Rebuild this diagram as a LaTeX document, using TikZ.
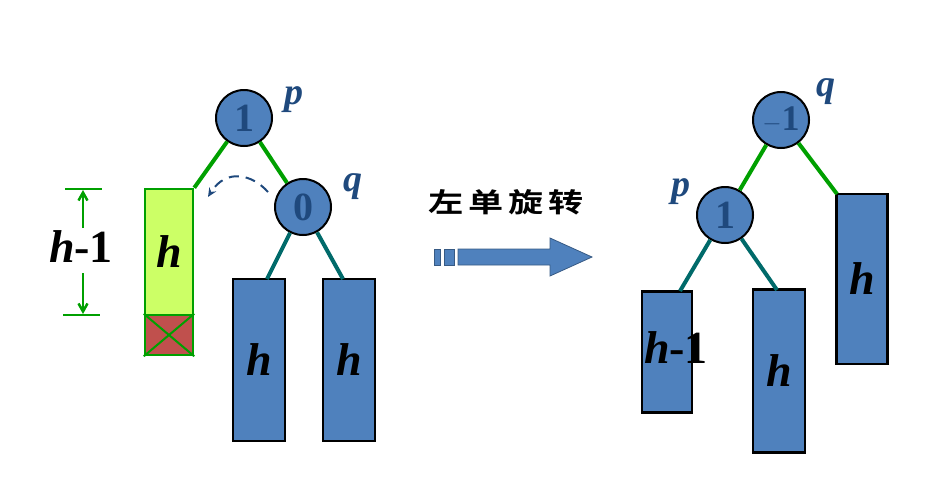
\documentclass[tikz,border=0pt]{standalone}
\usepackage{fontspec}
\setmainfont{Liberation Serif}[BoldFont={Liberation Serif Bold},ItalicFont={Liberation Serif Italic},BoldItalicFont={Liberation Serif Bold Italic}]
\newfontfamily\cjk{Noto Sans CJK SC Bold}
\usetikzlibrary{arrows.meta,calc}
\definecolor{boxblue}{HTML}{4F81BD}
\definecolor{dblue}{HTML}{1F497D}
\definecolor{gline}{HTML}{00A000}
\definecolor{tline}{HTML}{006A6A}
\definecolor{limefill}{HTML}{CCFF66}
\definecolor{brick}{HTML}{C0504D}
\begin{document}
\begin{tikzpicture}[x=1pt,y=-1pt,
  bal/.style={circle,draw=black,line width=2pt,fill=boxblue,minimum size=56pt,inner sep=0pt,
    font=\fontsize{40}{40}\selectfont\bfseries,text=dblue},
  sub/.style={draw=black,line width=2.5pt,fill=boxblue,inner sep=0pt,
    font=\fontsize{46}{46}\selectfont\bfseries\itshape},
  hlab/.style={inner sep=0pt,font=\fontsize{46}{46}\selectfont\bfseries},
  nlab/.style={inner sep=0pt,text=dblue,font=\fontsize{38}{38}\selectfont\bfseries\itshape},
  gedge/.style={draw=gline,line width=4pt},
  tedge/.style={draw=tline,line width=4pt},
  dim/.style={draw=gline,line width=2.5pt}
]
\useasboundingbox (0,0) rectangle (944,483);

% ---------- left tree ----------
\node[bal] (p1) at (244,118) {1};
\node[nlab] (p1l) at (294,100) {p};
\node[bal] (q1) at (303,207) {0};
\node[nlab] (q1l) at (353,187) {q};

\node[draw=gline,line width=2.5pt,fill=limefill,minimum width=48pt,minimum height=126pt,inner sep=0pt,
  font=\fontsize{46}{46}\selectfont\bfseries\itshape] (lime) at (169,252) {h};
\node[draw=gline,line width=2.5pt,fill=brick,minimum width=48pt,minimum height=40pt,inner sep=0pt] (red) at (169,335) {};
\draw[draw=gline,line width=2pt] (red.north west) -- (red.south east) (red.north east) -- (red.south west);

\node[sub,minimum width=52pt,minimum height=162pt] (b1) at (259,360) {h};
\node[sub,minimum width=52pt,minimum height=162pt] (b2) at (349,360) {h};

\path[gedge] (p1) -- (lime.north east);
\path[gedge] (p1) -- (q1);
\coordinate (b1t) at (267,279);
\coordinate (b2t) at (343,279);
\path[tedge] (q1) -- (b1t);
\path[tedge] (q1) -- (b2t);

% dashed rotation arc
\coordinate (arcS) at (268,192);
\coordinate (arcE) at (208,197);
\draw[draw=dblue,line width=2pt,dash pattern=on 10pt off 7pt,-{Stealth[length=9pt,width=8pt]}]
  (arcS) .. controls (252,174) and (226,168) .. (arcE);

% dimension h-1
\coordinate (d1a) at (65,189);
\coordinate (d1b) at (102,189);
\coordinate (d2a) at (63,315);
\coordinate (d2b) at (100,315);
\path[dim] (d1a) -- (d1b);
\path[dim] (d2a) -- (d2b);
\coordinate (u1) at (83,228);
\coordinate (u2) at (83,190);
\coordinate (w1) at (83,273);
\coordinate (w2) at (83,314);
\draw[dim,-{Straight Barb[length=8pt,width=9pt]}] (u1) -- (u2);
\draw[dim,-{Straight Barb[length=8pt,width=9pt]}] (w1) -- (w2);
\node[hlab] (hm1) at (81,247) {\itshape h\upshape -1};

% ---------- middle arrow ----------
\node[inner sep=0pt,font=\fontsize{27}{27}\selectfont\cjk] (title) at (506,202)
  {\scalebox{1.3}[1]{左\hspace{4pt}单\hspace{4pt}旋\hspace{4pt}转}};
\filldraw[fill=boxblue,draw=boxblue!70!black,line width=0.8pt] (434,249) rectangle (440,265);
\filldraw[fill=boxblue,draw=boxblue!70!black,line width=0.8pt] (444,249) rectangle (454,265);
\filldraw[fill=boxblue,draw=boxblue!70!black,line width=0.8pt]
  (458,249) -- (550,249) -- (550,238) -- (592,257) -- (550,276) -- (550,265) -- (458,265) -- cycle;

% ---------- right tree ----------
\node[bal] (q2) at (781,120) {\fontsize{36}{36}\selectfont$\mathbf{-}$1};
\node[nlab] (q2l) at (826,92) {q};
\node[bal] (p2) at (725,215) {1};
\node[nlab] (p2l) at (681,192) {p};

\node[sub,minimum width=51pt,minimum height=170pt] (r3) at (862,279) {h};
\node[sub,minimum width=50pt,minimum height=121pt] (r1) at (667,352) {};
\node[sub,minimum width=52pt,minimum height=163pt] (r2) at (779,371) {h};
\node[hlab] (r1l) at (676,348) {\itshape h\upshape -1};

\path[gedge] (q2) -- (p2);
\coordinate (r3t) at (837,194);
\path[gedge] (q2) -- (r3t);
\coordinate (r1t) at (680,291);
\coordinate (r2t) at (777,290);
\path[tedge] (p2) -- (r1t);
\path[tedge] (p2) -- (r2t);
\end{tikzpicture}
\end{document}
